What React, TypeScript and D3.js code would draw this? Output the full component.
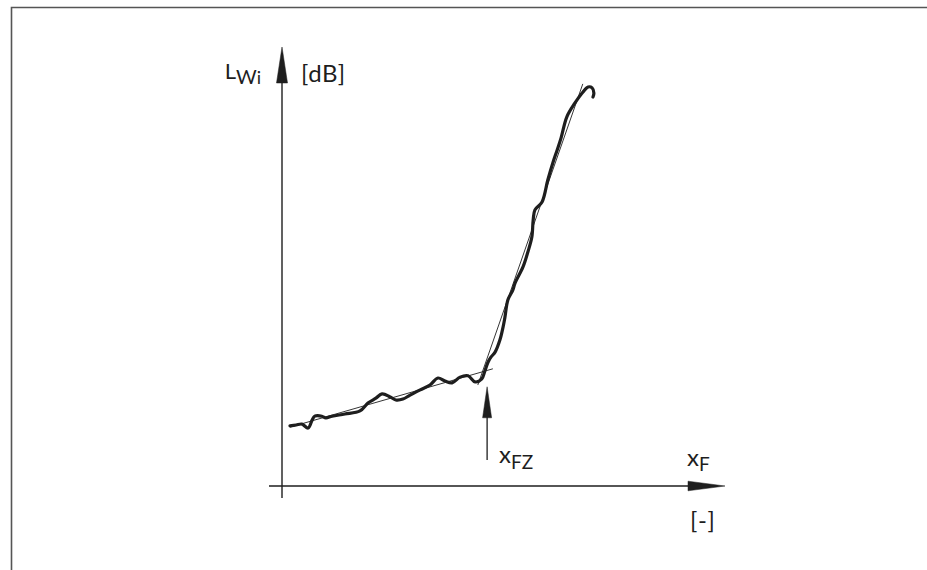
import React from 'react';
import * as d3 from 'd3';

// measured sound power level curve (x_F in %, L_Wi in % of axis height)
const curveX = [1.8, 3.2, 4.5, 5.9, 6.8, 7.4, 9.0, 9.9, 11.3, 14.2, 17.6, 19.4, 21.2, 22.6, 24.4, 25.7, 27.3, 28.9, 31.2, 33.4, 35.2, 36.8, 38.4, 40.2, 42.0, 43.6, 45.1, 45.8, 46.5, 47.2, 48.1, 49.2, 49.9, 50.3, 51.0, 52.1, 52.6, 54.4, 55.5, 56.4, 56.7, 57.1, 58.7, 60.0, 61.2, 62.1, 63.0, 64.3, 66.1, 67.9, 69.1, 70.0, 70.4, 70.2];
const curveY = [13.7, 13.9, 14.1, 13.2, 15.0, 15.9, 15.9, 15.5, 15.9, 16.4, 17.1, 18.9, 20.0, 21.0, 20.3, 19.6, 19.8, 20.7, 21.9, 23.0, 24.6, 23.9, 23.5, 24.8, 25.1, 23.7, 24.4, 26.2, 28.2, 29.4, 30.5, 33.3, 36.2, 38.3, 42.4, 44.6, 46.2, 49.9, 53.3, 56.7, 60.6, 62.9, 64.7, 69.7, 73.8, 76.5, 79.3, 84.1, 87.2, 89.7, 90.9, 90.7, 89.5, 88.6];

// the two fitted straight lines
const flatFit = [[1.8, 13.4], [47.6, 26.7]];
const steepFit = [[44.2, 23.0], [67.9, 91.6]];

// onset point x_FZ
const xFZ = 46.3;
const xFZArrow = [5.9, 22.6];

const FONT = 'Lato, "Open Sans", sans-serif';
const INK = '#1e1e1e';

export default function App() {
  const width = 927;
  const height = 570;

  const x = d3.scaleLinear().domain([0, 100]).range([282, 725]);
  const y = d3.scaleLinear().domain([0, 100]).range([486, 47]);

  const points = curveX.map((v, i) => [v, curveY[i]] as [number, number]);
  const line = d3
    .line<[number, number]>()
    .x((d) => x(d[0]))
    .y((d) => y(d[1]))
    .curve(d3.curveCatmullRom.alpha(0.5));

  const straight = d3
    .line<number[]>()
    .x((d) => x(d[0]))
    .y((d) => y(d[1]));

  const x0 = x(0);
  const y0 = y(0);
  const yTop = y(100);
  const xEnd = x(100);

  const fx = x(xFZ);
  const fyBottom = y(xFZArrow[0]);
  const fyTip = y(xFZArrow[1]);

  const arrowUp = (cx: number, tip: number, w: number, len: number) =>
    `M${cx},${tip} L${cx - w / 2},${tip + len} L${cx + w / 2},${tip + len} Z`;

  return (
    <svg
      width={width}
      height={height}
      style={{ position: 'absolute', left: 0, top: 0, background: '#fff' }}
    >
      {/* frame */}
      <path d={`M11.5,${height} V7.5 H${width}`} fill="none" stroke="#555" strokeWidth={1.6} />

      {/* y axis */}
      <line x1={x0} x2={x0} y1={y0 + 12} y2={yTop + 30} stroke={INK} strokeWidth={1.4} />
      <path d={arrowUp(x0, yTop, 11, 36)} fill={INK} stroke={INK} strokeWidth={0.5} />

      {/* x axis */}
      <line x1={x0 - 13} x2={xEnd - 30} y1={y0} y2={y0} stroke={INK} strokeWidth={1.4} />
      <path
        d={`M${xEnd},${y0} L${xEnd - 37},${y0 - 4.8} L${xEnd - 37},${y0 + 4.8} Z`}
        fill={INK}
        stroke={INK}
        strokeWidth={0.5}
      />

      {/* fitted lines */}
      <path d={straight(flatFit) ?? ''} fill="none" stroke={INK} strokeWidth={0.9} />
      <path d={straight(steepFit) ?? ''} fill="none" stroke={INK} strokeWidth={0.9} />

      {/* measured curve */}
      <path
        d={line(points) ?? ''}
        fill="none"
        stroke={INK}
        strokeWidth={3.2}
        strokeLinejoin="round"
        strokeLinecap="round"
      />

      {/* x_FZ marker */}
      <line x1={fx} x2={fx} y1={fyBottom} y2={fyTip + 25} stroke={INK} strokeWidth={1.3} />
      <path d={arrowUp(fx, fyTip, 9, 31)} fill={INK} stroke={INK} strokeWidth={0.5} />

      {/* labels */}
      <g fontFamily={FONT} fill={INK}>
        <text x={261} y={79} fontSize={22} textAnchor="end">
          L<tspan fontSize={20} dy={5}>W</tspan>
          <tspan fontSize={18}>i</tspan>
        </text>
        <text x={301} y={82} fontSize={24} letterSpacing={0.6}>[dB]</text>
        <text x={fx + 12} y={fyBottom + 3} fontSize={24}>
          x<tspan fontSize={19} dy={6}>FZ</tspan>
        </text>
        <text x={687} y={466} fontSize={24}>
          x<tspan fontSize={19} dy={5}>F</tspan>
        </text>
        <text x={690} y={529} fontSize={24} letterSpacing={0.6}>[-]</text>
      </g>
    </svg>
  );
}
